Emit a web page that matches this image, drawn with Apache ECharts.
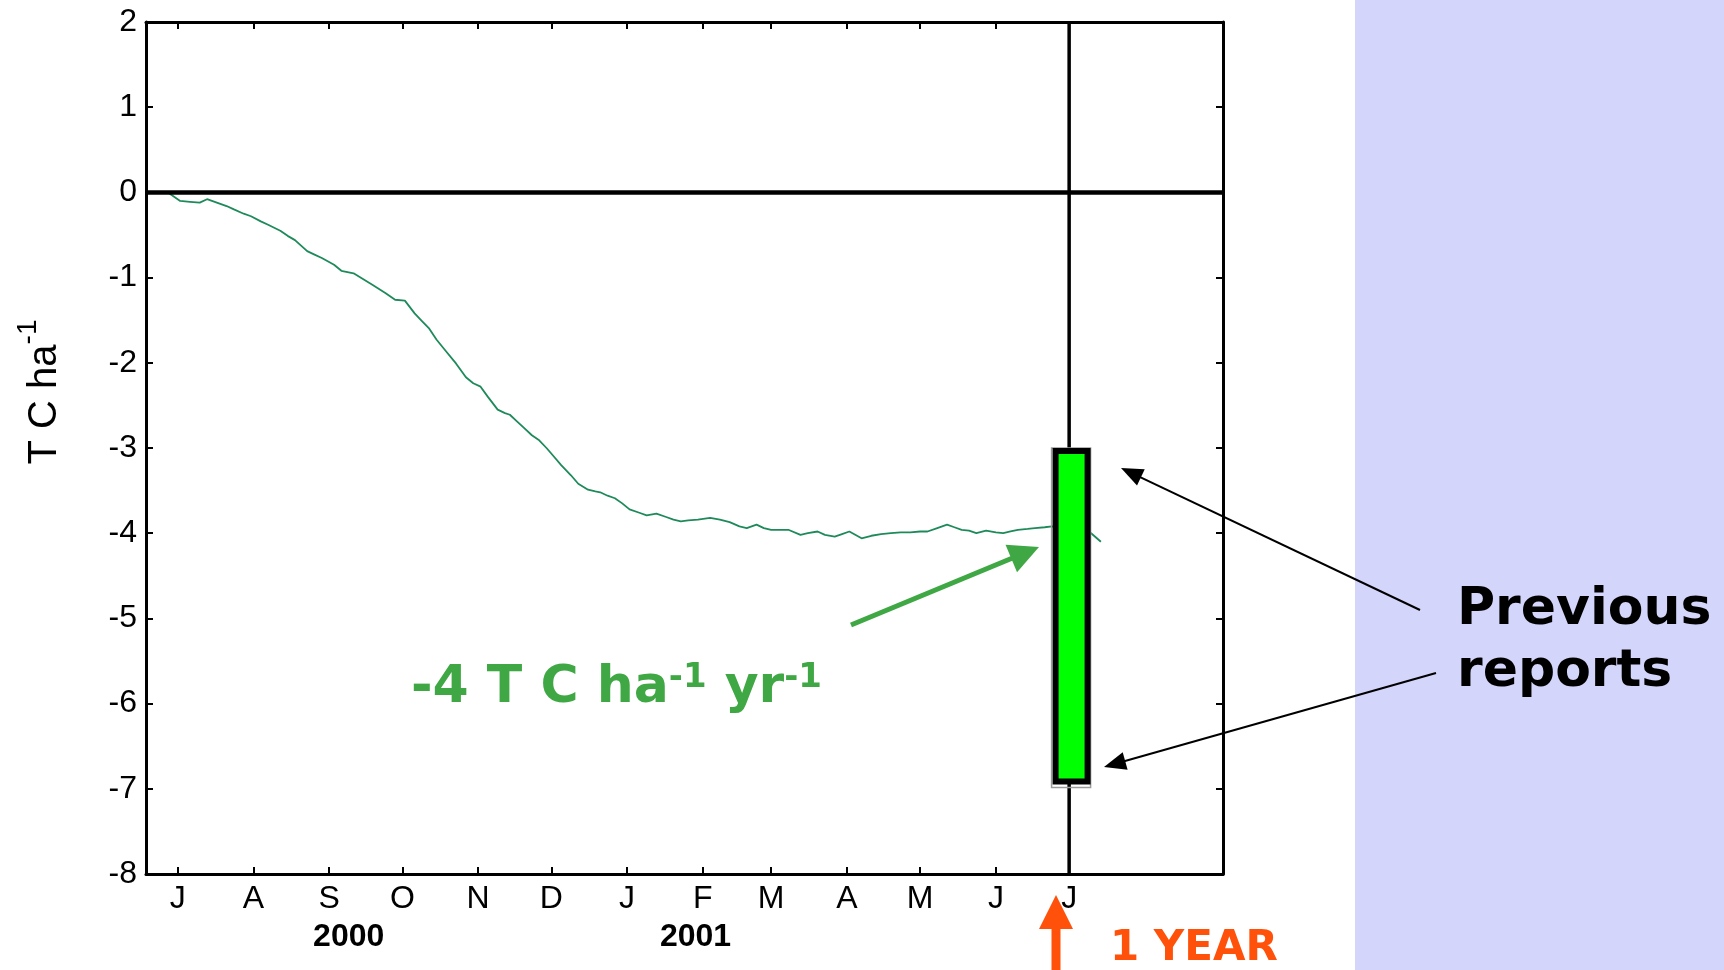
<!DOCTYPE html>
<html>
<head>
<meta charset="utf-8">
<title>Cumulative carbon exchange</title>
<script src="https://cdn.jsdelivr.net/npm/echarts@6/dist/echarts.min.js"></script>
<style>
  html, body { margin: 0; padding: 0; background: #ffffff; }
  #chart { width: 1724px; height: 970px; }
</style>
</head>
<body>
<div id="chart"></div>
<script>
// Time is counted in days from 1 July 2000.
const xRange = [-13, 428];
const yRange = [-8, 2];

// Month ticks along the time axis (first day of each month).
const monthTickDays = [0, 31, 62, 92, 123, 153, 184, 215, 243, 274, 304, 335, 365];
const monthTickLabels = ['J', 'A', 'S', 'O', 'N', 'D', 'J', 'F', 'M', 'A', 'M', 'J', 'J'];

// Year captions under the month letters.
const yearLabelDays = [70, 212];
const yearLabels = ['2000', '2001'];

// Cumulative net carbon exchange, T C ha-1.
const carbonDays = [
  -4, 1, 5, 9, 12, 16, 20, 23, 27, 30, 34, 37, 42, 45, 48, 53, 56, 59, 64, 67,
  72, 76, 80, 85, 89, 93, 97, 100, 103, 106, 110, 114, 118, 121, 124, 127, 131, 134, 136, 139,
  142, 145, 148, 151, 154, 157, 161, 164, 168, 171, 173, 176, 179, 182, 185, 189, 192, 196, 200, 203,
  206, 209, 213, 218, 222, 226, 230, 233, 237, 240, 243, 246, 250, 255, 258, 262, 265, 269, 272, 275,
  280, 284, 288, 292, 296, 300, 304, 307, 311, 315, 318, 321, 324, 327, 331, 335, 338, 341, 344, 348,
  351, 355, 358, 362, 366, 370, 374, 376, 378
];
const carbonValues = [
  0.00, -0.10, -0.11, -0.12, -0.08, -0.12, -0.16, -0.20, -0.25, -0.28, -0.34, -0.38, -0.45, -0.51, -0.56, -0.69, -0.73, -0.77, -0.85, -0.92,
  -0.95, -1.02, -1.09, -1.18, -1.26, -1.27, -1.42, -1.51, -1.60, -1.73, -1.87, -2.01, -2.17, -2.24, -2.28, -2.40, -2.55, -2.59, -2.61, -2.69,
  -2.77, -2.85, -2.91, -3.00, -3.10, -3.20, -3.32, -3.42, -3.49, -3.51, -3.52, -3.56, -3.59, -3.65, -3.72, -3.76, -3.79, -3.77, -3.81, -3.84,
  -3.86, -3.85, -3.84, -3.82, -3.84, -3.87, -3.92, -3.94, -3.90, -3.94, -3.96, -3.96, -3.96, -4.02, -4.00, -3.98, -4.02, -4.04, -4.01, -3.98,
  -4.06, -4.03, -4.01, -4.00, -3.99, -3.99, -3.98, -3.98, -3.94, -3.90, -3.93, -3.96, -3.97, -4.00, -3.97, -3.99, -4.00, -3.98, -3.96, -3.95,
  -3.94, -3.93, -3.92, -3.94, -3.97, -3.98, -4.00, -4.05, -4.10
];

// One-year marker and the range given by previous reports.
const oneYearDay = 365;
const reportDay = 366;
const reportHigh = -3;
const reportLow = -6.95;

const tickFont = 'Liberation Sans, Arial, Helvetica, sans-serif';
const boldFont = 'DejaVu Sans, Verdana, sans-serif';

const chart = echarts.init(document.getElementById('chart'), null, { renderer: 'canvas' });

function arrow(tail, tip, color, lineWidth, headLen, headWidth, z) {
  const dx = tip[0] - tail[0];
  const dy = tip[1] - tail[1];
  const len = Math.hypot(dx, dy);
  const ux = dx / len, uy = dy / len;
  const bx = tip[0] - ux * headLen, by = tip[1] - uy * headLen;
  const px = -uy * headWidth / 2, py = ux * headWidth / 2;
  return [
    { type: 'line', z: z, silent: true,
      shape: { x1: tail[0], y1: tail[1], x2: bx + ux * 2, y2: by + uy * 2 },
      style: { stroke: color, lineWidth: lineWidth } },
    { type: 'polygon', z: z, silent: true,
      shape: { points: [tip, [bx + px, by + py], [bx - px, by - py]] },
      style: { fill: color } }
  ];
}

const axisLineStyle = { color: '#000', width: 3 };
const tickStyle = { color: '#000', width: 2 };

const option = {
  backgroundColor: '#ffffff',
  animation: false,
  grid: { left: 146, right: 501, top: 22, bottom: 96, containLabel: false },
  xAxis: [
    {
      type: 'value', position: 'bottom', min: xRange[0], max: xRange[1],
      axisLine: { show: true, onZero: false, lineStyle: axisLineStyle },
      axisTick: { show: true, inside: true, length: 7, lineStyle: tickStyle, customValues: monthTickDays },
      axisLabel: {
        show: true, customValues: monthTickDays, margin: 9,
        color: '#000', fontSize: 32, fontFamily: tickFont,
        formatter: function (v) { return monthTickLabels[monthTickDays.indexOf(v)]; }
      },
      splitLine: { show: false }
    },
    {
      type: 'value', position: 'top', min: xRange[0], max: xRange[1],
      axisLine: { show: true, onZero: false, lineStyle: axisLineStyle },
      axisTick: { show: true, inside: true, length: 7, lineStyle: tickStyle, customValues: monthTickDays },
      axisLabel: { show: false },
      splitLine: { show: false }
    },
    {
      type: 'value', position: 'bottom', offset: 38, min: xRange[0], max: xRange[1],
      axisLine: { show: false },
      axisTick: { show: false },
      axisLabel: {
        show: true, customValues: yearLabelDays, margin: 9,
        color: '#000', fontSize: 32, fontWeight: 'bold', fontFamily: tickFont,
        formatter: function (v) { return yearLabels[yearLabelDays.indexOf(v)]; }
      },
      splitLine: { show: false }
    }
  ],
  yAxis: [
    {
      type: 'value', position: 'left', min: yRange[0], max: yRange[1], interval: 1,
      axisLine: { show: true, onZero: false, lineStyle: axisLineStyle },
      axisTick: { show: true, inside: true, length: 7, lineStyle: tickStyle },
      axisLabel: { show: true, margin: 9, color: '#000', fontSize: 32, fontFamily: tickFont },
      splitLine: { show: false }
    },
    {
      type: 'value', position: 'right', min: yRange[0], max: yRange[1], interval: 1,
      axisLine: { show: true, onZero: false, lineStyle: axisLineStyle },
      axisTick: { show: true, inside: true, length: 7, lineStyle: tickStyle },
      axisLabel: { show: false },
      splitLine: { show: false }
    }
  ],
  series: [
    {
      name: 'Cumulative NEE', type: 'line', xAxisIndex: 0, yAxisIndex: 0,
      data: carbonDays.map(function (d, i) { return [d, carbonValues[i]]; }),
      showSymbol: false, smooth: false, silent: true, z: 2,
      lineStyle: { color: '#1E8A5A', width: 1.8 }
    },
    {
      name: 'Zero', type: 'line', xAxisIndex: 0, yAxisIndex: 0,
      data: [[xRange[0], 0], [xRange[1], 0]],
      showSymbol: false, silent: true, z: 3,
      lineStyle: { color: '#000', width: 4.5 }
    },
    {
      name: 'One year', type: 'line', xAxisIndex: 0, yAxisIndex: 0,
      data: [[oneYearDay, yRange[0]], [oneYearDay, yRange[1]]],
      showSymbol: false, silent: true, z: 4,
      lineStyle: { color: '#000', width: 3.5 }
    },
    {
      name: 'Previous reports', type: 'custom', xAxisIndex: 0, yAxisIndex: 0,
      data: [[reportDay, reportHigh, reportLow]],
      silent: true, z: 5,
      renderItem: function (params, api) {
        const top = api.coord([api.value(0), api.value(1)]);
        const bot = api.coord([api.value(0), api.value(2)]);
        const half = 16, bw = 6;
        return {
          type: 'group',
          children: [
            { type: 'rect',
              shape: { x: top[0] - half - 4, y: top[1], width: 2 * half + 7, height: bot[1] - top[1] + 3 },
              style: { fill: 'none', stroke: '#9b9b9b', lineWidth: 1.5 } },
            { type: 'rect',
              shape: { x: top[0] - half, y: top[1] + bw / 2, width: 2 * half, height: bot[1] - top[1] - bw },
              style: { fill: '#00FF00', stroke: '#000', lineWidth: bw } }
          ]
        };
      }
    }
  ],
  graphic: [].concat(
    [
      { type: 'rect', z: 0, silent: true,
        shape: { x: 1355, y: 0, width: 369, height: 970 },
        style: { fill: '#D4D5FA' } },
      // y-axis title
      { type: 'text', z: 10, silent: true, x: 45, y: 392, rotation: Math.PI / 2,
        style: {
          text: '{m|T C ha}{s|-1}', align: 'center', verticalAlign: 'middle',
          rich: {
            m: { fontSize: 40, fontFamily: tickFont, fill: '#000', lineHeight: 62 },
            s: { fontSize: 28, fontFamily: tickFont, fill: '#000', lineHeight: 28, verticalAlign: 'top' }
          }
        } },
      // rate annotation
      { type: 'text', z: 10, silent: true, x: 411, y: 661,
        style: {
          text: '{m|-4 T C ha}{s|-1}{m| yr}{s|-1}', align: 'left', verticalAlign: 'top',
          rich: {
            m: { fontSize: 52, fontWeight: 'bold', fontFamily: boldFont, fill: '#3FA844', lineHeight: 54 },
            s: { fontSize: 34, fontWeight: 'bold', fontFamily: boldFont, fill: '#3FA844', lineHeight: 34, verticalAlign: 'top' }
          }
        } },
      { type: 'text', z: 10, silent: true, x: 1457, y: 579,
        style: {
          text: 'Previous\nreports', align: 'left', verticalAlign: 'top',
          font: 'bold 52px ' + boldFont, lineHeight: 62, fill: '#000'
        } },
      { type: 'text', z: 10, silent: true, x: 1110, y: 928,
        style: {
          text: '1 YEAR', align: 'left', verticalAlign: 'top',
          font: 'bold 42px ' + boldFont, lineHeight: 42, fill: '#FF5109'
        } },
      // orange marker arrow under the one-year line
      { type: 'rect', z: 10, silent: true,
        shape: { x: 1051.5, y: 926, width: 9, height: 44 },
        style: { fill: '#FF5109' } },
      { type: 'polygon', z: 10, silent: true,
        shape: { points: [[1056, 895], [1039, 929], [1073, 929]] },
        style: { fill: '#FF5109' } }
    ],
    arrow([851, 625], [1039, 547], '#3FA844', 5, 30, 30, 10),
    arrow([1420, 610], [1121, 468], '#000', 2, 22, 18, 10),
    arrow([1436, 673], [1104, 767], '#000', 2, 22, 18, 10)
  )
};

chart.setOption(option);
</script>
</body>
</html>
